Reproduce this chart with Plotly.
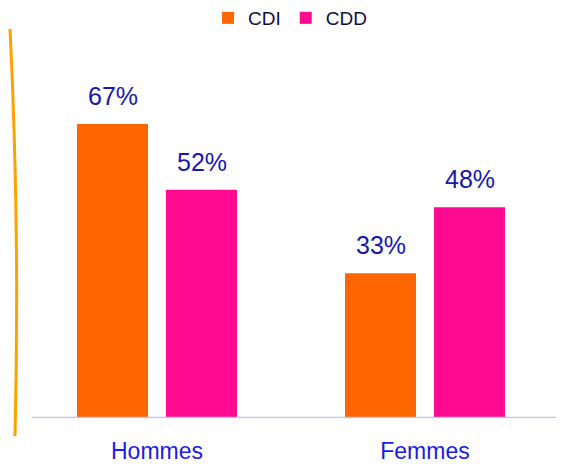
import plotly.graph_objects as go

categories = ["Hommes", "Femmes"]
series_names = ["CDI", "CDD"]
cdi_values = [67, 33]
cdd_values = [52, 48]
series_values = [cdi_values, cdd_values]
colors = ["#FF6600", "#FF0A91"]
FONT = "Liberation Sans, Arial, sans-serif"

# page body adds an 8px offset; figure is sized/placed to compensate
FW, FH = 556, 456
L, T, W, H = 15, 22, 536, 388

fig = go.Figure()
for name, vals, col in zip(series_names, series_values, colors):
    fig.add_trace(go.Bar(name=name, x=categories, y=vals, marker=dict(color=col, line=dict(width=0))))

shifts = [-44.5, 44.5]
for vals, sh in zip(series_values, shifts):
    for c, v in zip(categories, vals):
        fig.add_annotation(x=c, y=v, text=f"{v}%", showarrow=False, xshift=sh,
                           yanchor="bottom", yshift=12,
                           font=dict(family=FONT, size=25, color="#1818B0"))

# reference-pixel helpers (screen pixels -> paper fractions)
def px(xp):
    return (xp - 8 - L) / W
def py(yp):
    return (T + H - (yp - 8)) / H

# baseline
fig.add_shape(type="line", xref="paper", yref="y", x0=px(32), x1=px(556), y0=0, y1=0,
              line=dict(color="#BCC0FF", width=2.5))
# decorative orange stroke on the left
path = f"M {px(10)},{py(29)} Q {px(20)},{py(230)} {px(15)},{py(436)}"
fig.add_shape(type="path", xref="paper", yref="paper", path=path,
              line=dict(color="#FFA200", width=3))

fig.update_layout(
    width=FW, height=FH,
    margin=dict(l=L, r=FW - L - W, t=T, b=FH - T - H, autoexpand=False),
    paper_bgcolor="white", plot_bgcolor="white",
    barmode="group", bargap=0.336, bargroupgap=0.202,
    showlegend=True,
    legend=dict(orientation="h", x=px(290), xanchor="center", y=py(18), yanchor="middle",
                font=dict(family=FONT, size=19, color="#10103C"),
                itemwidth=30, traceorder="normal", bgcolor="rgba(0,0,0,0)"),
    xaxis=dict(type="category", showline=False, showgrid=False, ticks="", automargin=False,
               tickfont=dict(family=FONT, size=23, color="#1C1CE0"), ticklabelstandoff=17),
    yaxis=dict(range=[0, 88.4], visible=False, showgrid=False, zeroline=False, automargin=False),
)
fig.write_html("out.html")
